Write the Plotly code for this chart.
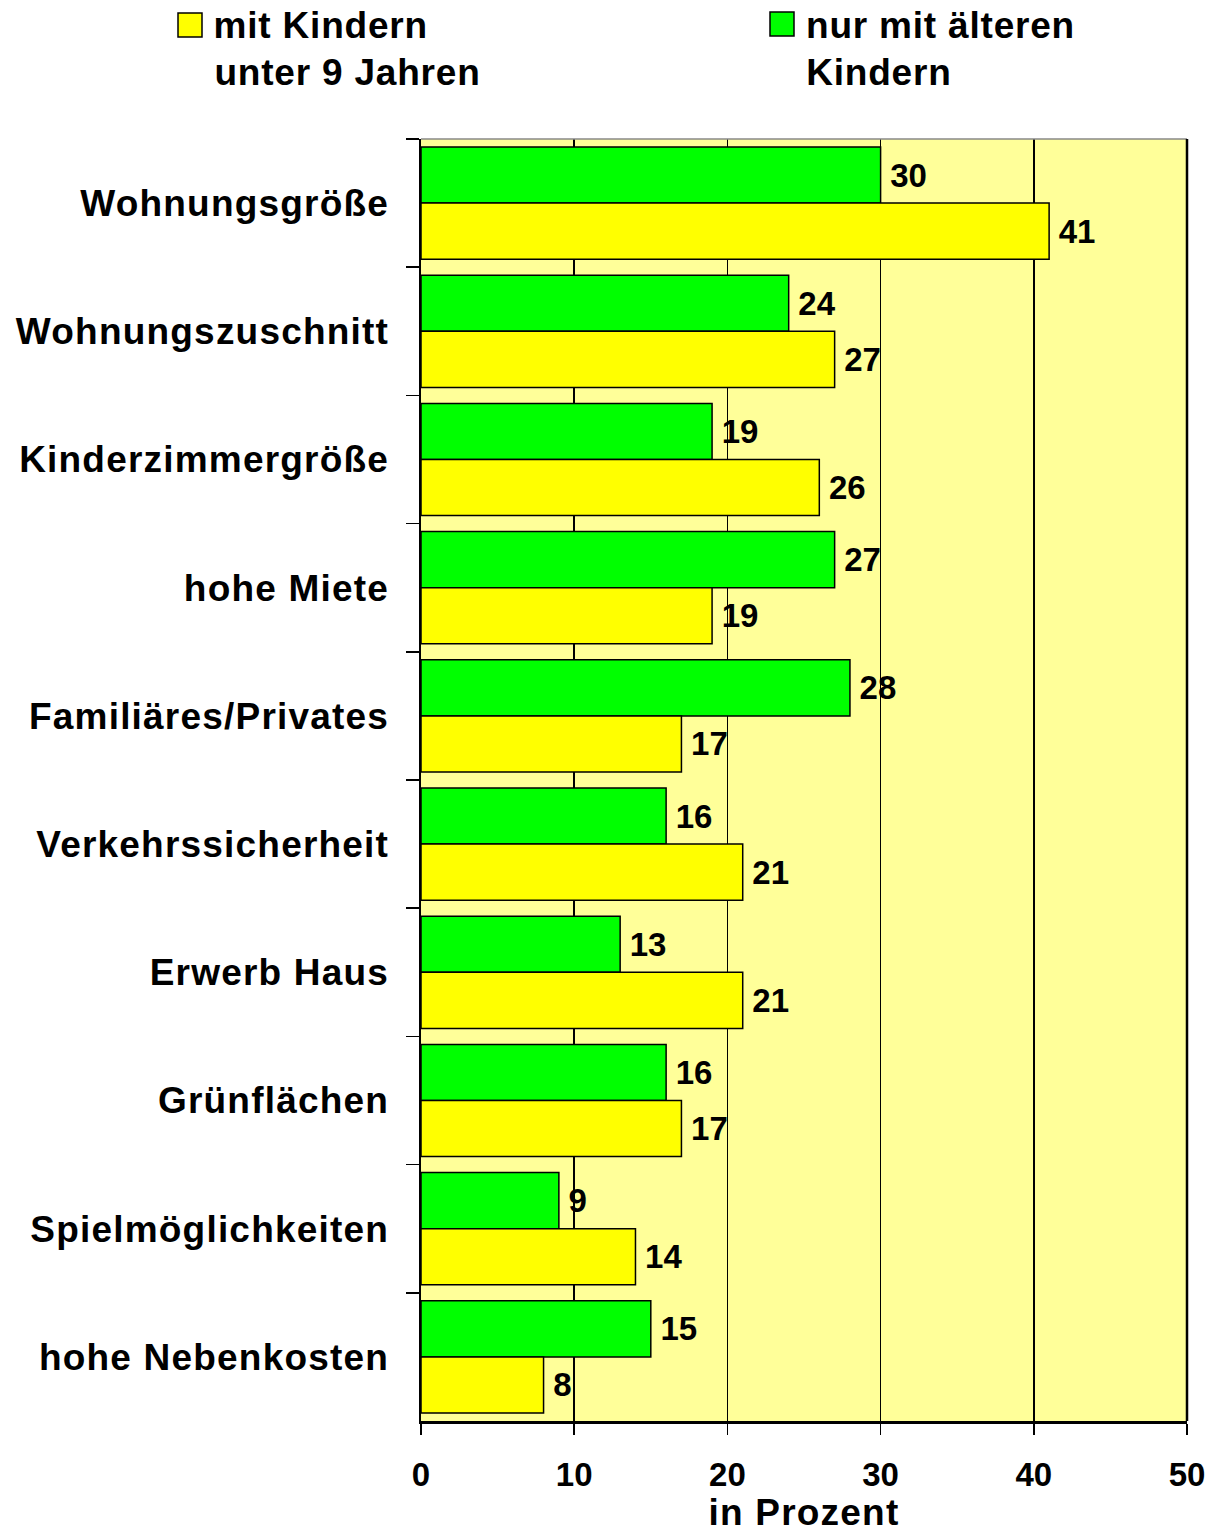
import plotly.graph_objects as go

# Gründe für den Umzug, Anteil in Prozent
categories = [
    "Wohnungsgröße",
    "Wohnungszuschnitt",
    "Kinderzimmergröße",
    "hohe Miete",
    "Familiäres/Privates",
    "Verkehrssicherheit",
    "Erwerb Haus",
    "Grünflächen",
    "Spielmöglichkeiten",
    "hohe Nebenkosten",
]
nur_aeltere = [30, 24, 19, 27, 28, 16, 13, 16, 9, 15]
unter_9 = [41, 27, 26, 19, 17, 21, 21, 17, 14, 8]
x_tickvals = [0, 10, 20, 30, 40, 50]

name_unter_9 = ["mit Kindern", "unter 9 Jahren"]
name_aeltere = ["nur mit älteren", "Kindern"]

COL_GREEN = "#00FF00"
COL_YELLOW = "#FFFF00"
BG = "#FFFF99"
FONT = "Liberation Sans, Arial, sans-serif"

W, H = 1221, 1533
ML, MR, MT, MB = 421, 34, 139, 112
PW, PH = W - ML - MR, H - MT - MB

# extra tracking (px per glyph) applied to the text after rendering
SPACING_YTICK = 1.2
SPACING_LEGEND = 0.8
SPACING_TITLE = 1.2


def px_x(px):
    return (px - ML) / PW


def px_y(py):
    return (H - MB - py) / PH


fig = go.Figure()

bar_font = dict(family=FONT, size=33, color="black", weight="bold")

fig.add_trace(go.Bar(
    y=categories, x=nur_aeltere, orientation="h",
    name=" ".join(name_aeltere),
    marker=dict(color=COL_GREEN, line=dict(color="black", width=1.5)),
    text=nur_aeltere, texttemplate="\u2009%{x}", textposition="outside",
    textfont=bar_font, constraintext="none", cliponaxis=False,
    showlegend=False,
))
fig.add_trace(go.Bar(
    y=categories, x=unter_9, orientation="h",
    name=" ".join(name_unter_9),
    marker=dict(color=COL_YELLOW, line=dict(color="black", width=1.5)),
    text=unter_9, texttemplate="\u2009%{x}", textposition="outside",
    textfont=bar_font, constraintext="none", cliponaxis=False,
    showlegend=False,
))

shapes = [
    # top frame line (grey) and right frame line (black)
    dict(type="line", xref="paper", yref="paper", x0=0, x1=1, y0=1, y1=1,
         line=dict(color="#888888", width=1.5), layer="above"),
    dict(type="line", xref="paper", yref="paper", x0=1, x1=1, y0=0, y1=1,
         line=dict(color="black", width=2.5), layer="above"),
    # legend swatches
    dict(type="rect", xref="paper", yref="paper",
         x0=px_x(178), x1=px_x(202), y0=px_y(37), y1=px_y(13),
         fillcolor=COL_YELLOW, line=dict(color="black", width=1.5)),
    dict(type="rect", xref="paper", yref="paper",
         x0=px_x(770), x1=px_x(794), y0=px_y(36), y1=px_y(12),
         fillcolor=COL_GREEN, line=dict(color="black", width=1.5)),
]

legend_font = dict(family=FONT, size=37, color="black", weight="bold")
annotations = []
for lines, xpx in ((name_unter_9, 212), (name_aeltere, 804)):
    for i, line in enumerate(lines):
        # centred annotation text grows to both sides with tracking
        shift = len(line) * SPACING_LEGEND / 2
        annotations.append(dict(
            text=line, xref="paper", yref="paper",
            x=px_x(xpx + shift), y=px_y(26 + 46 * i),
            xanchor="left", yanchor="middle", showarrow=False,
            font=legend_font,
        ))

fig.update_layout(
    width=W, height=H,
    margin=dict(l=ML, r=MR, t=MT, b=MB),
    paper_bgcolor="white", plot_bgcolor=BG,
    barmode="group", bargap=0.125, bargroupgap=0,
    shapes=shapes, annotations=annotations,
    showlegend=False,
    font=dict(family=FONT, color="black"),
)

fig.update_xaxes(
    range=[0, 50], tickvals=x_tickvals, ticktext=[str(v) for v in x_tickvals],
    showgrid=True, gridcolor="black", gridwidth=1.5,
    showline=True, linecolor="black", linewidth=2.5,
    ticks="outside", ticklen=11, tickwidth=1.5, tickcolor="black",
    tickfont=dict(family=FONT, size=33, color="black", weight="bold"),
    ticklabelstandoff=12,
    zeroline=False, fixedrange=True,
    title=dict(text="in Prozent", standoff=3,
               font=dict(family=FONT, size=37, color="black", weight="bold")),
)

fig.update_yaxes(
    autorange="reversed", type="category",
    showgrid=False, showline=True, linecolor="black", linewidth=2.5,
    ticks="outside", tickson="boundaries", ticklen=13, tickwidth=1.5,
    tickcolor="black",
    tickfont=dict(family=FONT, size=37, color="black", weight="bold"),
    ticklabelstandoff=22,
    fixedrange=True,
)

tracking_js = """
var gd = document.getElementById('{plot_id}');
function track(sel, v) {
  gd.querySelectorAll(sel).forEach(function (t) { t.style.letterSpacing = v; });
}
track('.ytick text', '%spx');
track('.annotation-text', '%spx');
track('text.xtitle', '%spx');
""" % (SPACING_YTICK, SPACING_LEGEND, SPACING_TITLE)

fig.write_html("out.html", post_script=tracking_js,
               config={"displayModeBar": False, "staticPlot": True})
